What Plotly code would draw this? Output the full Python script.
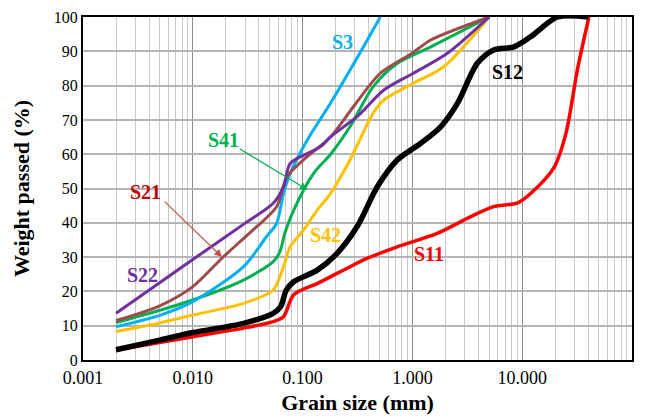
import plotly.graph_objects as go
import math

# ---- data (grain size in mm, weight passed in %) ----
s22_x = [0.002, 0.01, 0.03, 0.054, 0.067, 0.077, 0.11, 0.146, 0.18, 0.315, 0.55, 1.02, 2.1, 5.0]
s22_y = [13.6, 29.3, 39.9, 45.7, 50.5, 57.3, 60.2, 62.2, 65.1, 71.0, 78.7, 83.6, 89.5, 100]

s21_x = [0.002, 0.005, 0.01, 0.019, 0.035, 0.058, 0.072, 0.11, 0.18, 0.3, 0.51, 1.0, 1.47, 5.0]
s21_y = [11.5, 15.8, 21.4, 30.1, 37.8, 44.7, 53.4, 59.3, 65.0, 74.5, 83.6, 89.5, 93.3, 100]

s3_x = [0.002, 0.005, 0.01, 0.029, 0.047, 0.058, 0.067, 0.077, 0.11, 0.18, 0.3, 0.51]
s3_y = [9.7, 13.0, 17.0, 27.2, 36.0, 39.8, 48.6, 54.4, 64.1, 74.9, 87.0, 100]

s41_x = [0.002, 0.005, 0.01, 0.029, 0.054, 0.062, 0.069, 0.083, 0.126, 0.18, 0.27, 0.44, 0.73, 1.47, 5.0]
s41_y = [10.9, 14.5, 17.5, 23.3, 28.7, 31.5, 37.0, 43.7, 54.4, 60.0, 68.0, 79.7, 86.5, 91.3, 100]

s42_x = [0.002, 0.005, 0.01, 0.029, 0.054, 0.067, 0.077, 0.102, 0.136, 0.18, 0.27, 0.44, 0.55, 1.02, 1.93, 5.0]
s42_y = [8.3, 10.8, 13.1, 16.5, 20.4, 27.2, 33.0, 37.9, 43.7, 48.6, 58.3, 72.0, 75.8, 80.7, 85.5, 100]

s12_x = [0.002, 0.005, 0.01, 0.029, 0.054, 0.063, 0.071, 0.083, 0.136, 0.206, 0.314, 0.479, 0.727, 1.19, 1.81, 2.57, 3.9, 5.5, 8.4, 12.0, 21.0, 40.0]
s12_y = [3.0, 5.8, 8.0, 10.7, 13.6, 15.5, 20.4, 22.8, 26.2, 31.1, 38.9, 50.5, 58.3, 63.2, 68.0, 74.8, 86.5, 90.4, 91.3, 94.3, 100, 100]

s11_x = [0.002, 0.01, 0.029, 0.054, 0.067, 0.083, 0.14, 0.27, 0.36, 0.727, 1.68, 3.4, 5.5, 9.1, 12.0, 19.4, 25.0, 32.0, 40.5]
s11_y = [2.9, 6.8, 9.3, 11.2, 12.6, 19.0, 22.5, 27.2, 29.2, 33.0, 36.9, 41.8, 44.7, 45.8, 48.6, 56.0, 66.0, 85.0, 100]

x_tickvals = [0.001, 0.01, 0.1, 1, 10, 100]
x_ticktext = ["0.001", "0.010", "0.100", "1.000", "10.000", "100.0"]
y_tickvals = [0, 10, 20, 30, 40, 50, 60, 70, 80, 90, 100]

series = [
    ("S11", s11_x, s11_y, "#FF0000", 3.5),
    ("S12", s12_x, s12_y, "#000000", 5.5),
    ("S42", s42_x, s42_y, "#FFC000", 3),
    ("S41", s41_x, s41_y, "#00B050", 3),
    ("S3", s3_x, s3_y, "#00B0F0", 3),
    ("S21", s21_x, s21_y, "#9E4B4A", 3),
    ("S22", s22_x, s22_y, "#7030A0", 3),
]

# label annotations: text, x (mm), y (%), colour
labels = [
    ("S3", 0.23, 92.7, "#00B0F0"),
    ("S12", 7.4, 84.0, "#000000"),
    ("S41", 0.0189, 64.1, "#00B050"),
    ("S21", 0.00368, 49.0, "#C00000"),
    ("S42", 0.161, 36.4, "#FFC000"),
    ("S11", 1.41, 30.9, "#FF0000"),
    ("S22", 0.00345, 24.8, "#7030A0"),
]
# arrows: tail (x, y), head (x, y), colour
arrows = [
    ((0.026, 61.8), (0.111, 49.6), "#00B050"),
    ((0.00537, 46.6), (0.0185, 30.0), "#C0504D"),
]

fig = go.Figure()
for name, xs, ys, col, w in series:
    fig.add_trace(go.Scatter(x=xs, y=ys, mode="lines", name=name,
                             line=dict(color=col, width=w, shape="spline", smoothing=0.8)))

serif = "Liberation Serif, Times New Roman, serif"
annots = []
for t, x, y, c in labels:
    annots.append(dict(x=math.log10(x), y=y, xref="x", yref="y", text="<b>%s</b>" % t,
                       showarrow=False, font=dict(family=serif, size=20, color=c)))
for (tx, ty), (hx, hy), c in arrows:
    annots.append(dict(x=math.log10(hx), y=hy, ax=math.log10(tx), ay=ty, xref="x", yref="y",
                       axref="x", ayref="y", text="", showarrow=True, arrowhead=2,
                       arrowsize=1.3, arrowwidth=1.2, arrowcolor=c))

fig.update_layout(
    width=640, height=411,
    margin=dict(l=75, r=16, t=9, b=59, autoexpand=False),
    paper_bgcolor="white", plot_bgcolor="white",
    showlegend=False,
    font=dict(family=serif, size=17, color="black"),
    annotations=annots,
    xaxis=dict(type="log", range=[-3, 2], tickvals=x_tickvals, ticktext=x_ticktext,
               automargin=False,
               showgrid=True, gridcolor="#8c8c8c", gridwidth=1,
               minor=dict(dtick="D1", showgrid=True, gridcolor="#c8c8c8", gridwidth=1, ticks=""),
               showline=True, linecolor="black", linewidth=2, mirror=True, ticks="",
               tickfont=dict(family=serif, size=18),
               title=dict(text="<b>Grain size (mm)</b>", font=dict(family=serif, size=22), standoff=8)),
    yaxis=dict(range=[0, 100], tickvals=y_tickvals, showgrid=True, gridcolor="#b4b4b4", gridwidth=1.5,
               automargin=False,
               showline=True, linecolor="black", linewidth=2, mirror=True, ticks="",
               zeroline=False,
               tickfont=dict(family=serif, size=16),
               title=dict(text="<b>Weight passed (%)</b>", font=dict(family=serif, size=22), standoff=18)),
)

fig.write_html("out.html")
